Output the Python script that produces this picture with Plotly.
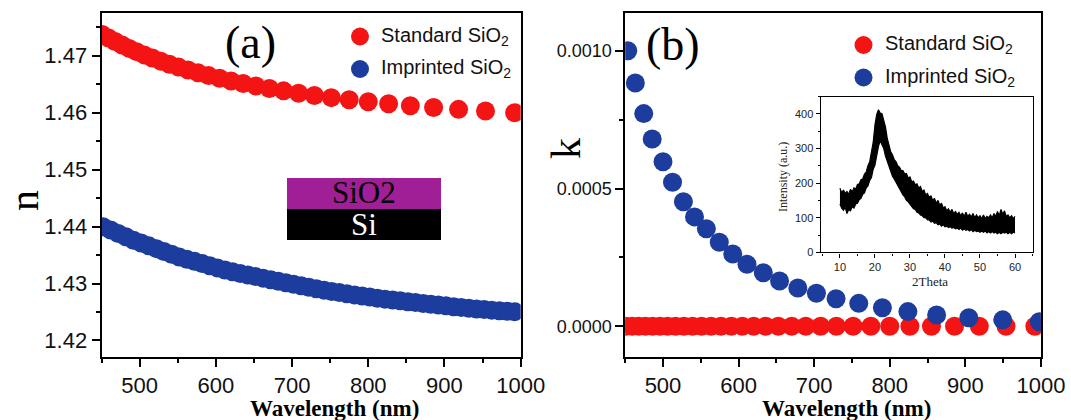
import plotly.graph_objects as go

W, H = 1071, 420

# ---------------- data ----------------
# Panel (a): refractive index n
red_wl = [992.0, 953.8, 918.5, 885.7, 855.2, 826.7, 800.0, 775.0, 751.5, 729.4,
          708.6, 688.9, 670.3, 652.6, 635.9, 620.0, 604.9, 590.5, 576.7, 563.6,
          551.1, 539.1, 527.7, 516.7, 506.1, 496.0, 486.3, 476.9, 467.9, 459.3, 450.9]
red_n = [1.46000, 1.46029, 1.46059, 1.46091, 1.46123, 1.46157, 1.46192, 1.46228,
         1.46265, 1.46304, 1.46343, 1.46384, 1.46425, 1.46469, 1.46513, 1.46558,
         1.46604, 1.46652, 1.46700, 1.46750, 1.46801, 1.46853, 1.46906, 1.46961,
         1.47016, 1.47073, 1.47130, 1.47190, 1.47250, 1.47311, 1.47373]

blue_wl_a = [452, 462, 472, 482, 492, 502, 512, 522, 532, 542, 552, 562, 572, 582,
             592, 602, 612, 622, 632, 642, 652, 662, 672, 682, 692, 702, 712, 722,
             732, 742, 752, 762, 772, 782, 792, 802, 812, 822, 832, 842, 852, 862,
             872, 882, 892, 902, 912, 922, 932, 942, 952, 962, 972, 982, 992]
blue_n = [1.43998, 1.43939, 1.43880, 1.43821, 1.43762, 1.43711, 1.43662, 1.43613,
          1.43563, 1.43514, 1.43466, 1.43428, 1.43390, 1.43352, 1.43313, 1.43275,
          1.43237, 1.43205, 1.43177, 1.43150, 1.43122, 1.43095, 1.43067, 1.43040,
          1.43014, 1.42988, 1.42962, 1.42936, 1.42910, 1.42884, 1.42860, 1.42841,
          1.42821, 1.42801, 1.42781, 1.42762, 1.42742, 1.42726, 1.42711, 1.42696,
          1.42680, 1.42665, 1.42650, 1.42636, 1.42622, 1.42608, 1.42594, 1.42581,
          1.42567, 1.42553, 1.42542, 1.42533, 1.42523, 1.42514, 1.42505]

# Panel (b): extinction coefficient k
red_k = [0.0, 0.0, 0.0, 0.0, 0.0, 0.0, 0.0, 0.0, 0.0, 0.0, 0.0, 0.0, 0.0, 0.0, 0.0,
         0.0, 0.0, 0.0, 0.0, 0.0, 0.0, 0.0, 0.0, 0.0, 0.0, 0.0, 0.0, 0.0, 0.0, 0.0, 0.0]
blue_wl_b = [453.4, 463.4, 474.5, 485.7, 500.0, 512.6, 527.0, 541.7, 557.4, 574.5,
             592.3, 611.1, 632.7, 654.2, 678.4, 703.0, 729.0, 759.0, 790.3, 824.0,
             862.0, 904.6, 949.5, 997.9]
blue_k = [0.001000, 0.000883, 0.000772, 0.000680, 0.000597, 0.000523, 0.000452,
          0.000397, 0.000354, 0.000305, 0.000262, 0.000225, 0.000194, 0.000164,
          0.000139, 0.000120, 0.000100, 0.000083, 0.000067, 0.000053, 0.000041,
          0.000031, 0.000023, 0.000016]

# Inset: XRD pattern, noisy band given by its upper / lower envelope
xrd_theta = [10, 10.5, 11, 11.5, 12, 12.5, 13, 13.5, 14, 14.5, 15, 15.5, 16, 16.5,
             17, 17.5, 18, 18.5, 19, 19.5, 20, 20.5, 21, 21.5, 22, 22.5, 23, 23.5,
             24, 24.5, 25, 25.5, 26, 26.5, 27, 27.5, 28, 28.5, 29, 29.5, 30, 30.5,
             31, 31.5, 32, 32.5, 33, 33.5, 34, 34.5, 35, 35.5, 36, 36.5, 37, 37.5,
             38, 38.5, 39, 39.5, 40, 40.5, 41, 41.5, 42, 42.5, 43, 43.5, 44, 44.5,
             45, 45.5, 46, 46.5, 47, 47.5, 48, 48.5, 49, 49.5, 50, 50.5, 51, 51.5,
             52, 52.5, 53, 53.5, 54, 54.5, 55, 55.5, 56, 56.5, 57, 57.5, 58, 58.5,
             59, 59.5, 60]
xrd_upper = [185, 172, 180, 170, 176, 168, 182, 175, 186, 183, 196, 198, 210, 212,
             226, 232, 250, 262, 290, 318, 368, 398, 412, 402, 400, 378, 362, 330,
             312, 290, 282, 268, 262, 250, 246, 236, 236, 226, 228, 214, 218, 204,
             206, 195, 198, 186, 190, 176, 180, 166, 170, 158, 164, 150, 156, 142,
             150, 136, 142, 128, 132, 120, 126, 116, 124, 112, 118, 110, 116, 106,
             114, 104, 116, 104, 110, 102, 112, 100, 108, 100, 106, 98, 108, 98,
             104, 100, 108, 100, 112, 104, 118, 106, 124, 110, 120, 104, 108, 100,
             106, 98, 104]
xrd_lower = [140, 128, 122, 130, 112, 124, 120, 132, 128, 140, 142, 152, 156, 168,
             172, 186, 192, 208, 216, 240, 252, 282, 306, 322, 312, 300, 278, 262,
             246, 234, 220, 212, 202, 194, 184, 176, 166, 160, 150, 146, 138, 134,
             126, 124, 116, 114, 108, 106, 100, 100, 94, 94, 88, 90, 84, 86, 80, 82,
             76, 80, 74, 76, 72, 74, 70, 72, 68, 70, 66, 70, 64, 68, 64, 66, 62, 66,
             60, 64, 60, 62, 58, 62, 58, 62, 56, 60, 56, 60, 56, 58, 54, 58, 54, 58,
             56, 58, 54, 58, 54, 58, 56]

x_ticks = [500, 600, 700, 800, 900, 1000]
legend_names = ["Standard SiO<sub>2</sub>", "Imprinted SiO<sub>2</sub>"]

RED = "#f41414"
BLUE = "#1c3c9e"
PURPLE = "#a01e96"
SANS = "Liberation Sans, Arial, sans-serif"
SERIF = "Liberation Serif, Times New Roman, serif"


def px(x):
    return x / W


def py(y):
    return 1 - y / H


fig = go.Figure()

MS = 19
fig.add_trace(go.Scatter(x=blue_wl_a, y=blue_n, mode="markers", xaxis="x", yaxis="y",
                         marker=dict(size=MS, color=BLUE, line=dict(width=0)),
                         name=legend_names[1], showlegend=False))
fig.add_trace(go.Scatter(x=red_wl, y=red_n, mode="markers", xaxis="x", yaxis="y",
                         marker=dict(size=MS, color=RED, line=dict(width=0)),
                         name=legend_names[0], showlegend=False))
fig.add_trace(go.Scatter(x=red_wl, y=red_k, mode="markers", xaxis="x2", yaxis="y2",
                         marker=dict(size=MS, color=RED, line=dict(width=0)),
                         name=legend_names[0], showlegend=False))
fig.add_trace(go.Scatter(x=blue_wl_b, y=blue_k, mode="markers", xaxis="x2", yaxis="y2",
                         marker=dict(size=MS, color=BLUE, line=dict(width=0)),
                         name=legend_names[1], showlegend=False))
fig.add_trace(go.Scatter(x=xrd_theta, y=xrd_lower, mode="lines", xaxis="x3", yaxis="y3",
                         line=dict(color="black", width=1.2), showlegend=False))
fig.add_trace(go.Scatter(x=xrd_theta, y=xrd_upper, mode="lines", xaxis="x3", yaxis="y3",
                         line=dict(color="black", width=1.2), fill="tonexty",
                         fillcolor="black", showlegend=False))


def main_axis(domain, rng, dtick, tick0, minor_dtick, fontsize, fmt=None, anchor=None):
    d = dict(domain=domain, range=rng, showline=True, linecolor="black", linewidth=1.8,
             mirror=True, ticks="outside", ticklen=8, tickwidth=1.5, tickcolor="black",
             dtick=dtick, tick0=tick0, showgrid=False, zeroline=False,
             tickfont=dict(family=SANS, size=fontsize, color="#111"),
             minor=dict(ticks="outside", ticklen=4, tickwidth=1.5, tickcolor="black",
                        dtick=minor_dtick, tick0=tick0, showgrid=False))
    if fmt:
        d["tickformat"] = fmt
    if anchor:
        d["anchor"] = anchor
    return d


YD = [0.15, 0.9683]
fig.update_layout(
    width=W, height=H, template="none",
    margin=dict(l=0, r=0, t=0, b=0),
    paper_bgcolor="white", plot_bgcolor="white",
    showlegend=False,
    xaxis=main_axis([101.5 / W, 520.7 / W], [450, 1000], 100, 0, 50, 22, anchor="y"),
    yaxis=main_axis(YD, [1.4171, 1.47746], 0.01, 1.42, 0.005, 22, fmt=".2f", anchor="x"),
    xaxis2=main_axis([625.2 / W, 1040.9 / W], [450, 1000], 100, 0, 50, 22, anchor="y2"),
    yaxis2=main_axis(YD, [-0.0001118, 0.0011362], 0.0005, 0, 0.00025, 18, fmt=".4f",
                     anchor="x2"),
    xaxis3=dict(domain=[820.7 / W, 1032.5 / W], range=[4.5, 65], anchor="y3",
                showline=True, linecolor="black", linewidth=1.3, mirror=True,
                ticks="outside", ticklen=4, tickwidth=1, tickcolor="black", dtick=10,
                tick0=0, showgrid=False, zeroline=False,
                tickfont=dict(family=SANS, size=11, color="#222"),
                minor=dict(ticks="outside", ticklen=2, tickwidth=1, tickcolor="black",
                           dtick=5, tick0=0, showgrid=False)),
    yaxis3=dict(domain=[py(252.4), py(96.5)], range=[0, 450], anchor="x3",
                showline=True, linecolor="black", linewidth=1.3, mirror=True,
                ticks="outside", ticklen=4, tickwidth=1, tickcolor="black", dtick=100,
                tick0=0, showgrid=False, zeroline=False,
                tickfont=dict(family=SANS, size=11, color="#222"),
                minor=dict(ticks="outside", ticklen=2, tickwidth=1, tickcolor="black",
                           dtick=50, tick0=0, showgrid=False)),
)
fig.update_xaxes(tickvals=x_ticks, selector=dict(anchor="y"))
fig.update_xaxes(tickvals=x_ticks, selector=dict(anchor="y2"))

shapes = []
# SiO2 / Si layer sketch
shapes.append(dict(type="rect", xref="paper", yref="paper", x0=px(287), x1=px(441),
                   y0=py(209), y1=py(178), fillcolor=PURPLE, line=dict(width=0),
                   layer="above"))
shapes.append(dict(type="rect", xref="paper", yref="paper", x0=px(287), x1=px(441),
                   y0=py(240), y1=py(209), fillcolor="black", line=dict(width=0),
                   layer="above"))

# legend symbols
LS = 9
for (cx, cy, col) in [(360, 36.5, RED), (360, 69, BLUE), (863.5, 45, RED), (863.5, 77.5, BLUE)]:
    shapes.append(dict(type="circle", xref="paper", yref="paper", xsizemode="pixel",
                       ysizemode="pixel", xanchor=px(cx), yanchor=py(cy),
                       x0=-LS, x1=LS, y0=-LS, y1=LS, fillcolor=col,
                       line=dict(width=0), layer="above"))
fig.update_layout(shapes=shapes)

ann = []


def add_text(text, x, y, size, family, color="black", angle=0, xanchor="center"):
    ann.append(dict(text=text, x=px(x), y=py(y), xref="paper", yref="paper",
                    showarrow=False, xanchor=xanchor, yanchor="middle", borderpad=0,
                    textangle=angle, font=dict(family=family, size=size, color=color)))


# legends
add_text(legend_names[0], 380, 36.5, 20, SANS, "#111", xanchor="left")
add_text(legend_names[1], 380, 69, 20, SANS, "#111", xanchor="left")
add_text(legend_names[0], 883.5, 45, 20, SANS, "#111", xanchor="left")
add_text(legend_names[1], 883.5, 77.5, 20, SANS, "#111", xanchor="left")
# panel labels
add_text("(a)", 250.5, 43, 46, SERIF)
add_text("(b)", 673, 45, 46, SERIF)
# axis titles
add_text("n", 24, 201, 42, SERIF, angle=-90)
add_text("k", 566, 149, 42, SERIF, angle=-90)
add_text("<b>Wavelength (nm)</b>", 334, 408.5, 23, SERIF)
add_text("<b>Wavelength (nm)</b>", 846, 408.5, 23, SERIF)
# layer sketch labels
add_text("SiO2", 364, 192.5, 31, SERIF, "black")
add_text("Si", 364, 224.5, 31, SERIF, "white")
# inset titles
add_text("Intensity (a.u.)", 783, 177, 12, SERIF, "#222", angle=-90)
add_text("2Theta", 930, 281.5, 13, SERIF, "#222")
fig.update_layout(annotations=ann)

fig.write_html("out.html", config={"displayModeBar": False},
               post_script="document.body.style.margin='0px';"
                           "document.body.style.overflow='hidden';")
